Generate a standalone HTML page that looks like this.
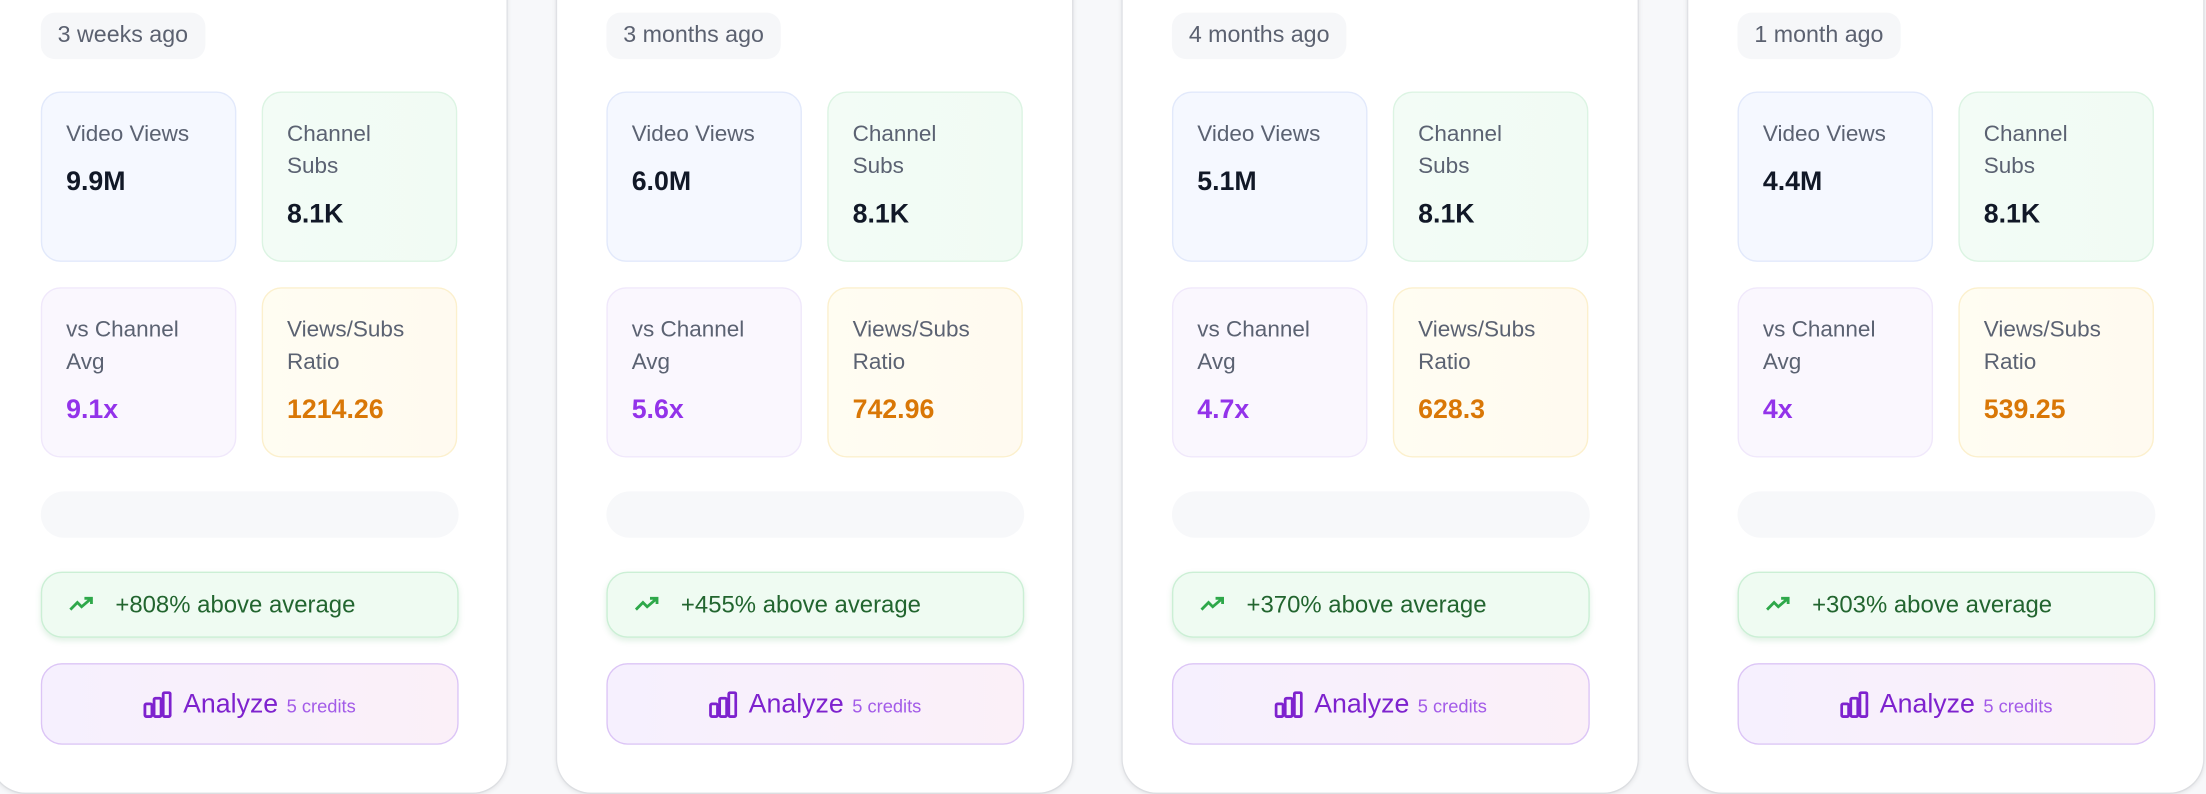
<!DOCTYPE html>
<html><head><meta charset="utf-8"><style>
html,body{margin:0;padding:0;}
body{width:2206px;height:794px;overflow:hidden;background:#f7f8fa;font-family:"Liberation Sans",sans-serif;}
#w{position:absolute;left:0;top:0;width:1568px;height:564px;transform:scale(1.40689,1.40780);transform-origin:0 0;}
.card{position:absolute;top:-40px;width:366px;height:603px;background:#fff;border-radius:24px;box-shadow:0 1px 4px rgba(0,0,0,0.12),0 0 0 1px #eceef2;}
.in{position:absolute;left:35px;}
.badge{top:49px;height:33px;padding:0 12px;border-radius:10px;background:#f6f7f9;color:#5b6170;font-size:16.5px;line-height:33px;}
.box{position:absolute;width:139px;height:121px;border-radius:14px;box-sizing:border-box;padding:18px 0 0 17px;}
.lbl{color:#5b6272;font-size:16px;line-height:23px;}
.val{font-weight:bold;font-size:19px;margin-top:12px;color:#111827;}
.b1{background:#f5f8ff;border:1px solid #e2e9fb;}
.b2{background:linear-gradient(90deg,#f3fcf6,#f1fbf4);border:1px solid #dcf4e3;}
.b3{background:#faf7fe;border:1px solid #f0e8fb;}
.b4{background:linear-gradient(90deg,#fffdf2,#fffaf0);border:1px solid #fcf0cd;}
.bar{top:389px;width:297px;height:33px;border-radius:17px;background:#f7f8fa;}
.grn{top:446px;width:297px;height:47px;border-radius:15px;background:#effbf2;border:1px solid #cbefd5;box-sizing:border-box;box-shadow:0 2px 4px rgba(60,160,90,0.15);color:#22652f;font-size:17px;line-height:45px;}
.grn svg{position:absolute;left:19px;top:16px;}
.grn span{position:absolute;left:52px;}
.an{top:511px;width:297px;height:58px;border-radius:15px;background:linear-gradient(90deg,#f6f0fe,#fbf0f8);border:1px solid #dcc5f6;box-sizing:border-box;text-align:center;line-height:58px;color:#7e22ce;font-size:19px;}
.an small{color:#a35be8;font-size:13px;margin-left:6px;}
.an svg{vertical-align:-4px;margin-right:8px;}
</style></head><body><div id="w">

<div class="card" style="left:-6px">
<div class="in badge">3 weeks ago</div>
<div class="box b1" style="left:35px;top:105px"><div class="lbl">Video Views</div><div class="val">9.9M</div></div>
<div class="box b2" style="left:192px;top:105px"><div class="lbl">Channel<br>Subs</div><div class="val">8.1K</div></div>
<div class="box b3" style="left:35px;top:244px"><div class="lbl">vs Channel<br>Avg</div><div class="val" style="color:#9333ea">9.1x</div></div>
<div class="box b4" style="left:192px;top:244px"><div class="lbl">Views/Subs<br>Ratio</div><div class="val" style="color:#d97706">1214.26</div></div>
<div class="in bar"></div>
<div class="in grn"><svg width="18" height="12" viewBox="0 0 18 12"><path d="M1 10 L6 5 L9 8 L16 2 M11 2 H16 V6" fill="none" stroke="#2ea84a" stroke-width="2"/></svg><span>+808% above average</span></div>
<div class="in an"><svg width="20" height="19" viewBox="0 0 20 19"><rect x="1" y="9" width="5" height="9" rx="1" fill="none" stroke="#7e22ce" stroke-width="2"/><rect x="7.5" y="5" width="5" height="13" rx="1" fill="none" stroke="#7e22ce" stroke-width="2"/><rect x="14" y="1" width="5" height="17" rx="1" fill="none" stroke="#7e22ce" stroke-width="2"/></svg>Analyze<small>5 credits</small></div>
</div>

<div class="card" style="left:396px">
<div class="in badge">3 months ago</div>
<div class="box b1" style="left:35px;top:105px"><div class="lbl">Video Views</div><div class="val">6.0M</div></div>
<div class="box b2" style="left:192px;top:105px"><div class="lbl">Channel<br>Subs</div><div class="val">8.1K</div></div>
<div class="box b3" style="left:35px;top:244px"><div class="lbl">vs Channel<br>Avg</div><div class="val" style="color:#9333ea">5.6x</div></div>
<div class="box b4" style="left:192px;top:244px"><div class="lbl">Views/Subs<br>Ratio</div><div class="val" style="color:#d97706">742.96</div></div>
<div class="in bar"></div>
<div class="in grn"><svg width="18" height="12" viewBox="0 0 18 12"><path d="M1 10 L6 5 L9 8 L16 2 M11 2 H16 V6" fill="none" stroke="#2ea84a" stroke-width="2"/></svg><span>+455% above average</span></div>
<div class="in an"><svg width="20" height="19" viewBox="0 0 20 19"><rect x="1" y="9" width="5" height="9" rx="1" fill="none" stroke="#7e22ce" stroke-width="2"/><rect x="7.5" y="5" width="5" height="13" rx="1" fill="none" stroke="#7e22ce" stroke-width="2"/><rect x="14" y="1" width="5" height="17" rx="1" fill="none" stroke="#7e22ce" stroke-width="2"/></svg>Analyze<small>5 credits</small></div>
</div>

<div class="card" style="left:798px">
<div class="in badge">4 months ago</div>
<div class="box b1" style="left:35px;top:105px"><div class="lbl">Video Views</div><div class="val">5.1M</div></div>
<div class="box b2" style="left:192px;top:105px"><div class="lbl">Channel<br>Subs</div><div class="val">8.1K</div></div>
<div class="box b3" style="left:35px;top:244px"><div class="lbl">vs Channel<br>Avg</div><div class="val" style="color:#9333ea">4.7x</div></div>
<div class="box b4" style="left:192px;top:244px"><div class="lbl">Views/Subs<br>Ratio</div><div class="val" style="color:#d97706">628.3</div></div>
<div class="in bar"></div>
<div class="in grn"><svg width="18" height="12" viewBox="0 0 18 12"><path d="M1 10 L6 5 L9 8 L16 2 M11 2 H16 V6" fill="none" stroke="#2ea84a" stroke-width="2"/></svg><span>+370% above average</span></div>
<div class="in an"><svg width="20" height="19" viewBox="0 0 20 19"><rect x="1" y="9" width="5" height="9" rx="1" fill="none" stroke="#7e22ce" stroke-width="2"/><rect x="7.5" y="5" width="5" height="13" rx="1" fill="none" stroke="#7e22ce" stroke-width="2"/><rect x="14" y="1" width="5" height="17" rx="1" fill="none" stroke="#7e22ce" stroke-width="2"/></svg>Analyze<small>5 credits</small></div>
</div>

<div class="card" style="left:1200px">
<div class="in badge">1 month ago</div>
<div class="box b1" style="left:35px;top:105px"><div class="lbl">Video Views</div><div class="val">4.4M</div></div>
<div class="box b2" style="left:192px;top:105px"><div class="lbl">Channel<br>Subs</div><div class="val">8.1K</div></div>
<div class="box b3" style="left:35px;top:244px"><div class="lbl">vs Channel<br>Avg</div><div class="val" style="color:#9333ea">4x</div></div>
<div class="box b4" style="left:192px;top:244px"><div class="lbl">Views/Subs<br>Ratio</div><div class="val" style="color:#d97706">539.25</div></div>
<div class="in bar"></div>
<div class="in grn"><svg width="18" height="12" viewBox="0 0 18 12"><path d="M1 10 L6 5 L9 8 L16 2 M11 2 H16 V6" fill="none" stroke="#2ea84a" stroke-width="2"/></svg><span>+303% above average</span></div>
<div class="in an"><svg width="20" height="19" viewBox="0 0 20 19"><rect x="1" y="9" width="5" height="9" rx="1" fill="none" stroke="#7e22ce" stroke-width="2"/><rect x="7.5" y="5" width="5" height="13" rx="1" fill="none" stroke="#7e22ce" stroke-width="2"/><rect x="14" y="1" width="5" height="17" rx="1" fill="none" stroke="#7e22ce" stroke-width="2"/></svg>Analyze<small>5 credits</small></div>
</div>

</div></body></html>
